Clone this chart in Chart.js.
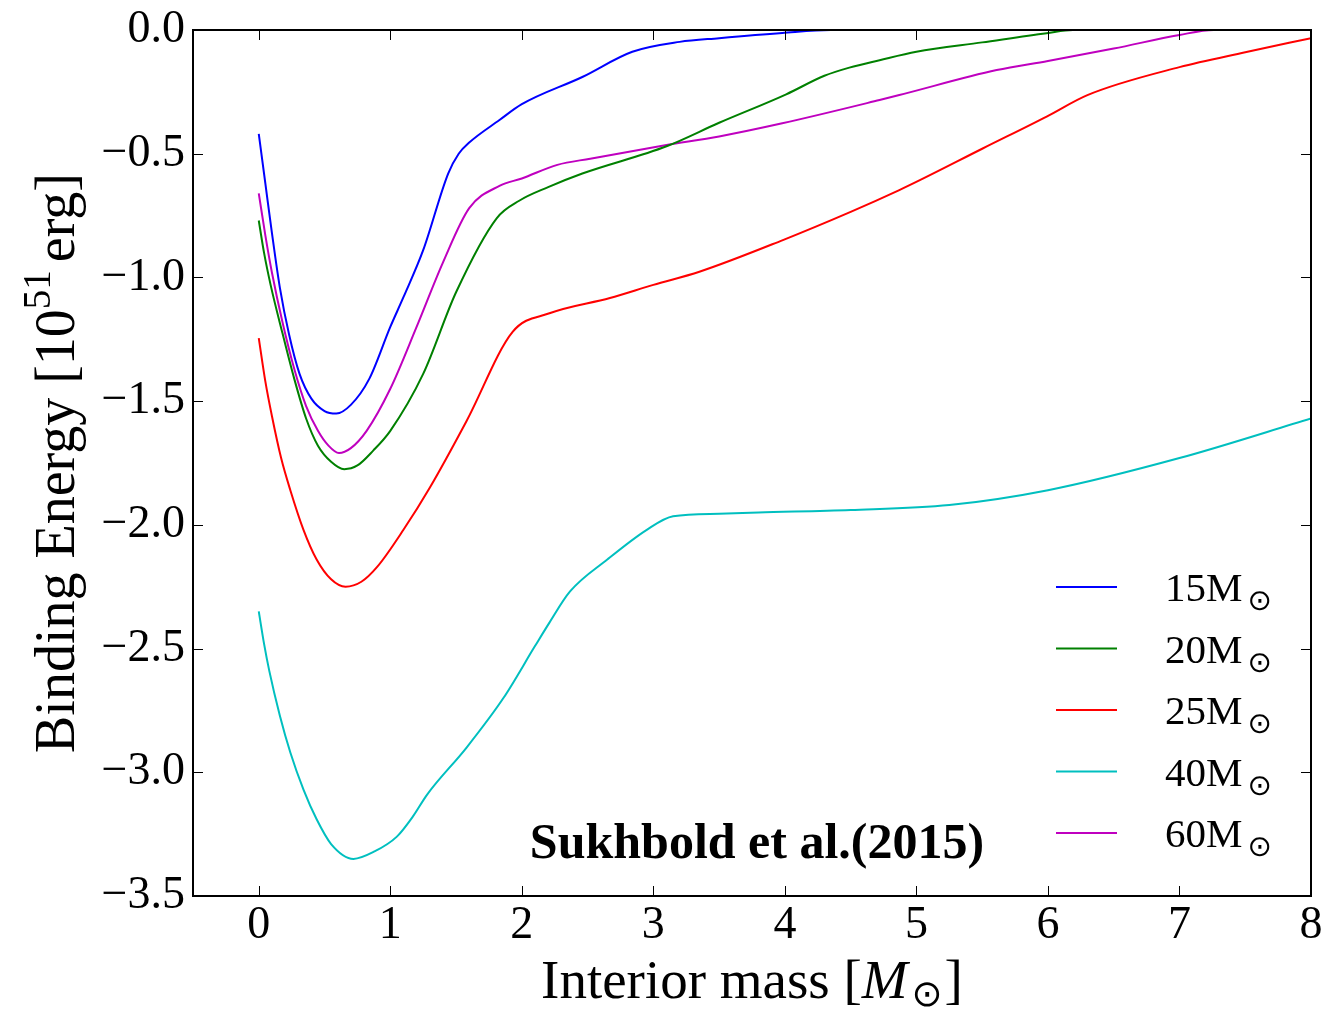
<!DOCTYPE html>
<html>
<head>
<meta charset="utf-8">
<script src="https://cdn.jsdelivr.net/npm/chart.js@4.4.1/dist/chart.umd.min.js"></script>
<style>
  body { margin: 0; background: #fff; }
  canvas { display: block; }
</style>
</head>
<body>
<canvas id="bindingChart" width="1328" height="1011"></canvas>
<script>
// Sukhbold et al. (2015) binding energy profiles
const mass15 = [0, 0.05, 0.1, 0.16, 0.23, 0.31, 0.4, 0.5, 0.59, 0.7, 0.84, 1.0, 1.1, 1.25, 1.44, 1.52, 1.6, 1.83, 2.0, 2.46, 2.84, 3.2, 3.5, 3.98, 4.35, 8.0];
const be15 = [-0.42, -0.62, -0.82, -1.04, -1.23, -1.39, -1.49, -1.54, -1.55, -1.515, -1.41, -1.2, -1.08, -0.89, -0.58, -0.5, -0.455, -0.364, -0.3, -0.19, -0.088, -0.048, -0.033, -0.012, 0, 0];

const mass20 = [0, 0.04, 0.09, 0.18, 0.27, 0.36, 0.45, 0.55, 0.65, 0.75, 0.87, 1.0, 1.25, 1.5, 1.81, 1.98, 2.2, 2.46, 3.1, 3.5, 4.01, 4.3, 4.49, 4.72, 5.0, 5.5, 5.99, 6.19, 8.0];
const be20 = [-0.77, -0.9, -1.03, -1.225, -1.41, -1.57, -1.68, -1.745, -1.775, -1.76, -1.7, -1.62, -1.39, -1.06, -0.76, -0.69, -0.635, -0.58, -0.47, -0.375, -0.26, -0.185, -0.152, -0.122, -0.088, -0.05, -0.013, 0, 0];

const mass25 = [0, 0.05, 0.1, 0.17, 0.24, 0.34, 0.44, 0.55, 0.66, 0.78, 0.9, 1.1, 1.3, 1.58, 1.93, 2.21, 2.67, 3.0, 3.35, 3.98, 4.5, 4.87, 5.03, 5.5, 5.99, 6.3, 7.0, 7.5, 8.0];
const be25 = [-1.245, -1.42, -1.56, -1.73, -1.86, -2.02, -2.14, -2.22, -2.25, -2.23, -2.17, -2.02, -1.85, -1.58, -1.22, -1.145, -1.083, -1.03, -0.977, -0.85, -0.735, -0.647, -0.606, -0.48, -0.35, -0.263, -0.15, -0.09, -0.033];

const mass40 = [0, 0.04, 0.08, 0.16, 0.24, 0.34, 0.44, 0.55, 0.72, 0.88, 1.05, 1.17, 1.28, 1.58, 1.86, 2.1, 2.21, 2.365, 2.65, 2.95, 3.15, 3.5, 3.8, 4.5, 5.25, 6.0, 7.0, 8.0];
const be40 = [-2.35, -2.48, -2.59, -2.77, -2.92, -3.07, -3.19, -3.29, -3.35, -3.32, -3.26, -3.18, -3.09, -2.9, -2.7, -2.49, -2.395, -2.27, -2.14, -2.02, -1.965, -1.955, -1.95, -1.94, -1.92, -1.86, -1.73, -1.57];

const mass60 = [0, 0.05, 0.1, 0.18, 0.27, 0.36, 0.45, 0.53, 0.61, 0.7, 0.82, 1.0, 1.2, 1.4, 1.6, 1.83, 2.0, 2.27, 2.52, 3.1, 3.5, 3.98, 4.72, 4.87, 5.61, 6.0, 6.5, 7.0, 7.26, 8.0];
const be60 = [-0.66, -0.83, -0.98, -1.18, -1.37, -1.52, -1.62, -1.68, -1.71, -1.69, -1.62, -1.45, -1.2, -0.94, -0.72, -0.63, -0.6, -0.545, -0.52, -0.465, -0.43, -0.377, -0.283, -0.263, -0.162, -0.125, -0.075, -0.02, 0, 0];

const starMasses = ["15", "20", "25", "40", "60"];
const lineColors = ["#0000ff", "#008000", "#ff0000", "#00bfbf", "#bf00bf"];
const xTicks = [0, 1, 2, 3, 4, 5, 6, 7, 8];
const yTicks = [0, -0.5, -1, -1.5, -2, -2.5, -3, -3.5];

const SERIF = "'Liberation Serif', 'Times New Roman', serif";

function toPoints(xs, ys) {
  return xs.map((x, i) => ({ x: x, y: ys[i] }));
}

const allMass = [mass15, mass20, mass25, mass40, mass60];
const allBE = [be15, be20, be25, be40, be60];

const datasets = starMasses.map((m, i) => ({
  label: m + "M\u2299",
  data: toPoints(allMass[i], allBE[i]),
  borderColor: lineColors[i],
  backgroundColor: lineColors[i],
  borderWidth: 2,
  pointRadius: 0,
  fill: false,
  cubicInterpolationMode: "monotone",
}));

// draws text pieces one after another, each with its own font and offset
function drawPieces(ctx, parts, x, y) {
  let w = 0;
  parts.forEach((p) => {
    ctx.font = p.f;
    p.w = ctx.measureText(p.t).width;
    w += p.w + (p.gap || 0);
  });
  let cx = x - w / 2;
  parts.forEach((p) => {
    ctx.font = p.f;
    ctx.fillText(p.t, cx, y + p.dy);
    cx += p.w + (p.gap || 0);
  });
}

// frame, inward ticks, axis titles, legend and note
const decorations = {
  id: "decorations",
  afterDatasetsDraw(chart) {
    const ctx = chart.ctx;
    const a = chart.chartArea;
    const xs = chart.scales.x;
    const ys = chart.scales.y;
    ctx.save();

    ctx.strokeStyle = "#000";
    ctx.lineWidth = 1;
    ctx.beginPath();
    xTicks.forEach((v) => {
      const px = Math.round(xs.getPixelForValue(v)) + 0.5;
      ctx.moveTo(px, a.bottom);
      ctx.lineTo(px, a.bottom - 10);
      ctx.moveTo(px, a.top);
      ctx.lineTo(px, a.top + 10);
    });
    yTicks.forEach((v) => {
      const py = Math.round(ys.getPixelForValue(v)) + 0.5;
      ctx.moveTo(a.left, py);
      ctx.lineTo(a.left + 10, py);
      ctx.moveTo(a.right, py);
      ctx.lineTo(a.right - 10, py);
    });
    ctx.stroke();

    ctx.lineWidth = 2;
    ctx.strokeRect(a.left, a.top, a.right - a.left, a.bottom - a.top);

    ctx.fillStyle = "#000";
    ctx.textBaseline = "alphabetic";
    ctx.textAlign = "left";

    // x title
    drawPieces(ctx, [
      { t: "Interior mass [", f: "55px " + SERIF, dy: 0 },
      { t: "M", f: "italic 55px " + SERIF, dy: 0, gap: 4 },
      { t: "\u2299", f: "37px 'DejaVu Sans'", dy: 8, gap: 2 },
      { t: "]", f: "55px " + SERIF, dy: 0 },
    ], (a.left + a.right) / 2, 998);

    // y title, rotated
    ctx.save();
    ctx.translate(74, (a.top + a.bottom) / 2);
    ctx.rotate(-Math.PI / 2);
    drawPieces(ctx, [
      { t: "Binding Energy [10", f: "56px " + SERIF, dy: 0 },
      { t: "51", f: "39px " + SERIF, dy: -24, gap: 8 },
      { t: "erg]", f: "56px " + SERIF, dy: 0 },
    ], 0, 0);
    ctx.restore();

    // legend
    chart.data.datasets.forEach((ds, i) => {
      const ly = 587 + i * 61.5;
      ctx.strokeStyle = ds.borderColor;
      ctx.lineWidth = 2;
      ctx.beginPath();
      ctx.moveTo(1056, ly);
      ctx.lineTo(1117, ly);
      ctx.stroke();
      ctx.font = "41px " + SERIF;
      const txt = starMasses[i] + "M";
      ctx.fillText(txt, 1165, ly + 14);
      const tw = ctx.measureText(txt).width;
      ctx.font = "29px 'DejaVu Sans'";
      ctx.fillText("\u2299", 1165 + tw + 5, ly + 23);
    });

    ctx.font = "bold 50px " + SERIF;
    ctx.textAlign = "center";
    ctx.fillText("Sukhbold et al.(2015)", 757, 858);

    ctx.restore();
  },
};

function noPadding(s) {
  s.paddingLeft = 0;
  s.paddingRight = 0;
  s.paddingTop = 0;
  s.paddingBottom = 0;
}

const ctx = document.getElementById("bindingChart").getContext("2d");

const bindingChart = new Chart(ctx, {
  type: "line",
  data: { datasets: datasets },
  options: {
    responsive: false,
    animation: false,
    layout: { padding: { top: 30, right: 17, left: 0, bottom: 0 } },
    plugins: {
      legend: { display: false },
      tooltip: { enabled: false },
    },
    scales: {
      x: {
        type: "linear",
        min: -0.5,
        max: 8,
        grid: { display: false, drawTicks: false },
        border: { display: false },
        afterFit: (s) => { s.height = 115; noPadding(s); },
        afterBuildTicks: (s) => { s.ticks = xTicks.map((v) => ({ value: v })); },
        ticks: {
          padding: 2,
          color: "#000",
          font: { family: SERIF, size: 46 },
          callback: (v) => String(v),
        },
      },
      y: {
        type: "linear",
        min: -3.5,
        max: 0,
        grid: { display: false, drawTicks: false },
        border: { display: false },
        afterFit: (s) => { s.width = 193; noPadding(s); },
        afterBuildTicks: (s) => { s.ticks = yTicks.map((v) => ({ value: v })); },
        ticks: {
          padding: 8,
          color: "#000",
          font: { family: SERIF, size: 46 },
          callback: (v) => (v < 0 ? "\u2212" : "") + Math.abs(v).toFixed(1),
        },
      },
    },
  },
  plugins: [decorations],
});
</script>
</body>
</html>
